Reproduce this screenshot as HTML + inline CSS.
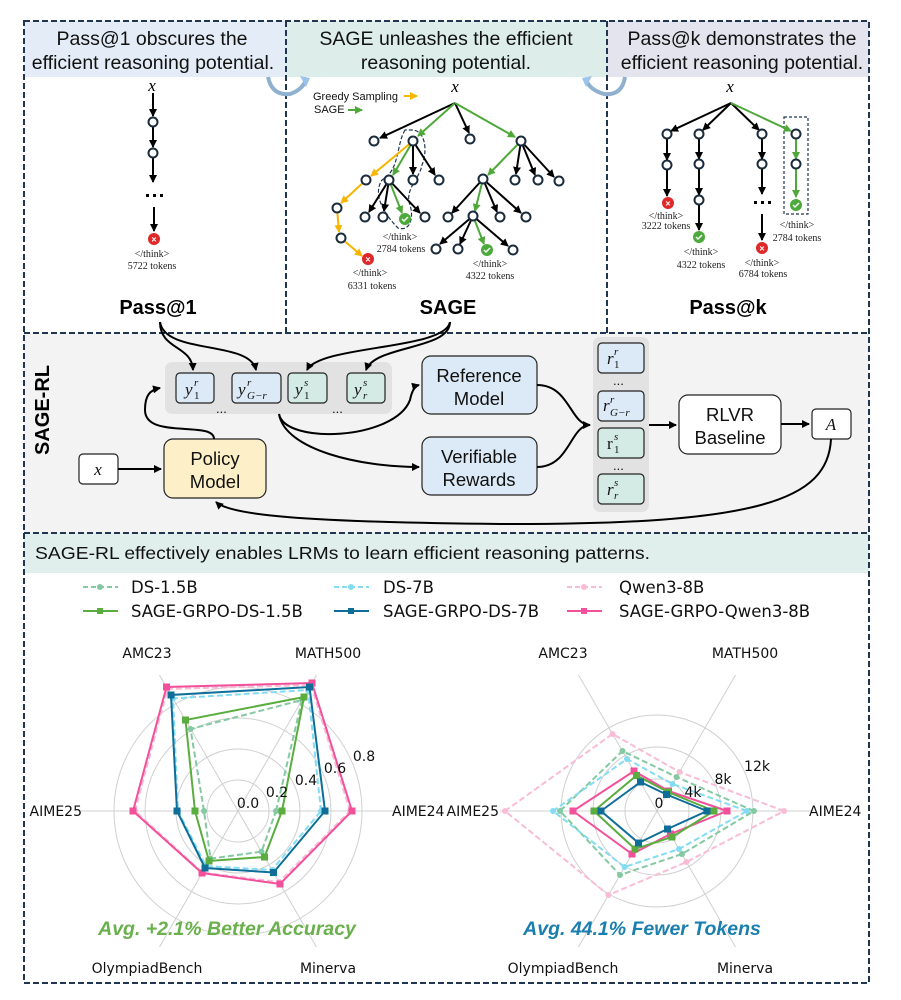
<!DOCTYPE html>
<html><head><meta charset="utf-8"><style>
html,body{margin:0;padding:0;background:#fff;}
svg{display:block;}
.s{font-family:"Liberation Sans",sans-serif;}
.d{font-family:"DejaVu Sans",sans-serif;}
.sr{font-family:"Liberation Serif",serif;}
</style></head><body>
<svg width="901" height="1000" viewBox="0 0 901 1000" xmlns="http://www.w3.org/2000/svg">
<defs>
<marker id="ak" markerWidth="8" markerHeight="8" refX="7" refY="4" orient="auto" markerUnits="userSpaceOnUse"><path d="M0,0 L8,4 L0,8 z" fill="#000"/></marker>
<marker id="ag" markerWidth="8" markerHeight="8" refX="7" refY="4" orient="auto" markerUnits="userSpaceOnUse"><path d="M0,0 L8,4 L0,8 z" fill="#4fa83a"/></marker>
<marker id="ay" markerWidth="8" markerHeight="8" refX="7" refY="4" orient="auto" markerUnits="userSpaceOnUse"><path d="M0,0 L8,4 L0,8 z" fill="#f7b500"/></marker>
<marker id="mq1" markerWidth="6" markerHeight="6" refX="3" refY="3" markerUnits="userSpaceOnUse"><circle cx="3" cy="3" r="3" fill="#f9bcd6"/></marker>
<marker id="mg1" markerWidth="6" markerHeight="6" refX="3" refY="3" markerUnits="userSpaceOnUse"><circle cx="3" cy="3" r="3" fill="#84c9a2"/></marker>
<marker id="mb1" markerWidth="6" markerHeight="6" refX="3" refY="3" markerUnits="userSpaceOnUse"><circle cx="3" cy="3" r="3" fill="#84dcf2"/></marker>
<marker id="mq2" markerWidth="7" markerHeight="7" refX="3.5" refY="3.5" markerUnits="userSpaceOnUse"><rect width="7" height="7" fill="#f2509a"/></marker>
<marker id="mg2" markerWidth="7" markerHeight="7" refX="3.5" refY="3.5" markerUnits="userSpaceOnUse"><rect width="7" height="7" fill="#5aad3e"/></marker>
<marker id="mb2" markerWidth="7" markerHeight="7" refX="3.5" refY="3.5" markerUnits="userSpaceOnUse"><rect width="7" height="7" fill="#0f6e98"/></marker>
</defs>

<rect x="24" y="21" width="262" height="56" fill="#e4edf7"/>
<rect x="286" y="21" width="321" height="56" fill="#ddeeea"/>
<rect x="607" y="21" width="262" height="56" fill="#e4e4ee"/>
<rect x="24" y="333" width="845" height="200" fill="#f3f3f3"/>
<rect x="24" y="533" width="845" height="40" fill="#e0efec"/>

<g fill="none" stroke="#1f3550" stroke-width="2" stroke-dasharray="6,3">
<rect x="24" y="21" width="845" height="962"/>
<line x1="24" y1="333" x2="869" y2="333"/>
<line x1="24" y1="533" x2="869" y2="533"/>
<line x1="286" y1="21" x2="286" y2="333"/>
<line x1="607" y1="21" x2="607" y2="333"/>
</g>

<g class="s" font-size="19.5" fill="#111" text-anchor="middle">
<text x="152" y="45">Pass@1 obscures the</text>
<text x="153" y="69">efficient reasoning  potential.</text>
<text x="446" y="45">SAGE unleashes the efficient</text>
<text x="446" y="69">reasoning potential.</text>
<text x="742" y="45">Pass@k demonstrates the</text>
<text x="742" y="69">efficient reasoning potential.</text>
</g>

<path d="M268,77 Q272,96 290,94 Q302,90 306,80" fill="none" stroke="#8fb0cf" stroke-width="4"/>
<path d="M300,76 l10,2 l-4,9 z" fill="#9cc3e8"/>
<path d="M625,77 Q622,96 604,94 Q590,90 586,80" fill="none" stroke="#8fb0cf" stroke-width="4"/>
<path d="M592,76 l-10,2 l4,9 z" fill="#9cc3e8"/>

<g stroke="#000" stroke-width="2" fill="none">
<line x1="153" y1="93" x2="153" y2="116" marker-end="url(#ak)"/>
<line x1="153" y1="127" x2="153" y2="147" marker-end="url(#ak)"/>
<line x1="153" y1="158" x2="153" y2="182" marker-end="url(#ak)"/>
<line x1="154" y1="207" x2="154" y2="231" marker-end="url(#ak)"/>
</g>
<text x="152" y="91" class="sr" font-style="italic" font-size="17" text-anchor="middle">x</text>
<g fill="#fff" stroke="#1a2b3c" stroke-width="2"><circle cx="153" cy="122" r="4.5"/><circle cx="153" cy="153" r="4.5"/></g>
<g fill="#000"><rect x="146" y="194" width="3" height="3"/><rect x="153" y="194" width="3" height="3"/><rect x="160" y="194" width="3" height="3"/></g>
<circle cx="154" cy="239" r="6" fill="#e02828"/><text x="154" y="242.5" font-size="9" fill="#fff" text-anchor="middle" class="s" font-weight="bold">×</text>
<g class="sr" font-size="10" fill="#222" text-anchor="middle"><text x="152" y="257">&lt;/think&gt;</text><text x="152" y="269">5722 tokens</text></g>
<text x="158" y="314" class="s" font-weight="bold" font-size="20" text-anchor="middle">Pass@1</text>

<g class="s" font-size="11" fill="#111"><text x="313" y="100">Greedy Sampling</text><text x="314" y="113">SAGE</text></g>
<line x1="404" y1="96" x2="417" y2="96" stroke="#f7b500" stroke-width="2" marker-end="url(#ay)"/>
<line x1="348" y1="110" x2="362" y2="110" stroke="#4fa83a" stroke-width="2" marker-end="url(#ag)"/>
<text x="455" y="92" class="sr" font-style="italic" font-size="17" text-anchor="middle">x</text>
<path d="M405,130 C396,145 400,170 382,180 C372,195 385,215 398,228 C410,232 414,218 410,205 C404,190 420,178 422,165 C428,150 425,130 412,130 Z" fill="none" stroke="#1f3550" stroke-width="1.2" stroke-dasharray="4,2"/>
<g stroke-width="2" fill="none">
<line x1="455" y1="103" x2="380" y2="138" stroke="#000" marker-end="url(#ak)"/>
<line x1="455" y1="103" x2="418" y2="136" stroke="#4fa83a" marker-end="url(#ag)"/>
<line x1="455" y1="103" x2="469" y2="133" stroke="#000" marker-end="url(#ak)"/>
<line x1="455" y1="103" x2="515" y2="137" stroke="#4fa83a" marker-end="url(#ag)"/>
<line x1="413" y1="141" x2="371" y2="176" stroke="#f7b500" marker-end="url(#ay)"/>
<line x1="413" y1="141" x2="393" y2="175" stroke="#4fa83a" marker-end="url(#ag)"/>
<line x1="413" y1="141" x2="413" y2="174" stroke="#000" marker-end="url(#ak)"/>
<line x1="413" y1="141" x2="435" y2="175" stroke="#000" marker-end="url(#ak)"/>
<line x1="366" y1="180" x2="341" y2="203" stroke="#f7b500" marker-end="url(#ay)"/>
<line x1="337" y1="208" x2="339" y2="232" stroke="#f7b500" marker-end="url(#ay)"/>
<line x1="341" y1="238" x2="362" y2="256" stroke="#f7b500" marker-end="url(#ay)"/>
<line x1="389" y1="180" x2="369" y2="212" stroke="#000" marker-end="url(#ak)"/>
<line x1="389" y1="180" x2="384" y2="211" stroke="#000" marker-end="url(#ak)"/>
<line x1="389" y1="180" x2="402" y2="213" stroke="#4fa83a" marker-end="url(#ag)"/>
<line x1="389" y1="180" x2="420" y2="213" stroke="#000" marker-end="url(#ak)"/>
<line x1="521" y1="141" x2="488" y2="175" stroke="#4fa83a" marker-end="url(#ag)"/>
<line x1="521" y1="141" x2="516" y2="174" stroke="#000" marker-end="url(#ak)"/>
<line x1="521" y1="141" x2="535" y2="175" stroke="#000" marker-end="url(#ak)"/>
<line x1="521" y1="141" x2="554" y2="177" stroke="#000" marker-end="url(#ak)"/>
<line x1="483" y1="179" x2="452" y2="213" stroke="#000" marker-end="url(#ak)"/>
<line x1="483" y1="179" x2="475" y2="211" stroke="#4fa83a" marker-end="url(#ag)"/>
<line x1="483" y1="179" x2="497" y2="212" stroke="#000" marker-end="url(#ak)"/>
<line x1="483" y1="179" x2="521" y2="213" stroke="#000" marker-end="url(#ak)"/>
<line x1="473" y1="216" x2="440" y2="244" stroke="#000" marker-end="url(#ak)"/>
<line x1="473" y1="216" x2="460" y2="244" stroke="#000" marker-end="url(#ak)"/>
<line x1="473" y1="216" x2="484" y2="244" stroke="#4fa83a" marker-end="url(#ag)"/>
<line x1="473" y1="216" x2="508" y2="246" stroke="#000" marker-end="url(#ak)"/>
</g>
<g fill="#fff" stroke="#1a2b3c" stroke-width="2">
<circle cx="374" cy="141" r="4.5"/><circle cx="413" cy="141" r="4.5"/><circle cx="470" cy="139" r="4.5"/><circle cx="521" cy="141" r="4.5"/>
<circle cx="366" cy="180" r="4.5"/><circle cx="389" cy="180" r="4.5"/><circle cx="413" cy="180" r="4.5"/><circle cx="439" cy="180" r="4.5"/>
<circle cx="337" cy="208" r="4.5"/><circle cx="341" cy="238" r="4.5"/>
<circle cx="365" cy="217" r="4.5"/><circle cx="383" cy="217" r="4.5"/><circle cx="425" cy="217" r="4.5"/>
<circle cx="483" cy="179" r="4.5"/><circle cx="515" cy="180" r="4.5"/><circle cx="538" cy="180" r="4.5"/><circle cx="559" cy="181" r="4.5"/>
<circle cx="448" cy="217" r="4.5"/><circle cx="473" cy="216" r="4.5"/><circle cx="500" cy="217" r="4.5"/><circle cx="526" cy="217" r="4.5"/>
<circle cx="436" cy="249" r="4.5"/><circle cx="458" cy="249" r="4.5"/><circle cx="513" cy="250" r="4.5"/>
</g>
<circle cx="405" cy="219" r="6" fill="#4caa3c"/><path d="M402,219 l2,2 l4,-4" stroke="#fff" stroke-width="1.5" fill="none"/>
<circle cx="487" cy="250" r="6" fill="#4caa3c"/><path d="M484,250 l2,2 l4,-4" stroke="#fff" stroke-width="1.5" fill="none"/>
<circle cx="368" cy="259" r="6" fill="#e02828"/><text x="368" y="262.5" font-size="9" fill="#fff" text-anchor="middle" class="s" font-weight="bold">×</text>
<g class="sr" font-size="10" fill="#222" text-anchor="middle">
<text x="400" y="240">&lt;/think&gt;</text><text x="401" y="252">2784 tokens</text>
<text x="370" y="276">&lt;/think&gt;</text><text x="372" y="289">6331 tokens</text>
<text x="490" y="267">&lt;/think&gt;</text><text x="490" y="279">4322 tokens</text>
</g>
<text x="448" y="314" class="s" font-weight="bold" font-size="20" text-anchor="middle">SAGE</text>

<text x="730" y="92" class="sr" font-style="italic" font-size="17" text-anchor="middle">x</text>
<rect x="784" y="117" width="24" height="97" fill="none" stroke="#1f3550" stroke-width="1.2" stroke-dasharray="3,2"/>
<g stroke-width="2" fill="none">
<line x1="731" y1="103" x2="671" y2="131" stroke="#000" marker-end="url(#ak)"/>
<line x1="731" y1="103" x2="703" y2="130" stroke="#000" marker-end="url(#ak)"/>
<line x1="731" y1="103" x2="759" y2="130" stroke="#000" marker-end="url(#ak)"/>
<line x1="731" y1="103" x2="791" y2="131" stroke="#4fa83a" marker-end="url(#ag)"/>
<line x1="667" y1="139" x2="667" y2="160" stroke="#000" marker-end="url(#ak)"/>
<line x1="667" y1="170" x2="667" y2="196" stroke="#000" marker-end="url(#ak)"/>
<line x1="699" y1="139" x2="699" y2="159" stroke="#000" marker-end="url(#ak)"/>
<line x1="699" y1="169" x2="699" y2="195" stroke="#000" marker-end="url(#ak)"/>
<line x1="699" y1="205" x2="699" y2="230" stroke="#000" marker-end="url(#ak)"/>
<line x1="762" y1="139" x2="762" y2="159" stroke="#000" marker-end="url(#ak)"/>
<line x1="762" y1="169" x2="762" y2="194" stroke="#000" marker-end="url(#ak)"/>
<line x1="762" y1="214" x2="762" y2="240" stroke="#000" marker-end="url(#ak)"/>
<line x1="796" y1="139" x2="796" y2="159" stroke="#4fa83a" marker-end="url(#ag)"/>
<line x1="796" y1="169" x2="796" y2="197" stroke="#4fa83a" marker-end="url(#ag)"/>
</g>
<g fill="#fff" stroke="#1a2b3c" stroke-width="2">
<circle cx="667" cy="134" r="4.5"/><circle cx="667" cy="165" r="4.5"/>
<circle cx="699" cy="134" r="4.5"/><circle cx="699" cy="164" r="4.5"/><circle cx="699" cy="200" r="4.5"/>
<circle cx="762" cy="134" r="4.5"/><circle cx="762" cy="164" r="4.5"/>
<circle cx="796" cy="134" r="4.5"/><circle cx="796" cy="164" r="4.5"/>
</g>
<g fill="#000"><rect x="754" y="201" width="3" height="3"/><rect x="761" y="201" width="3" height="3"/><rect x="768" y="201" width="3" height="3"/></g>
<circle cx="668" cy="203" r="6" fill="#e02828"/><text x="668" y="206.5" font-size="9" fill="#fff" text-anchor="middle" class="s" font-weight="bold">×</text>
<circle cx="762" cy="248" r="6" fill="#e02828"/><text x="762" y="251.5" font-size="9" fill="#fff" text-anchor="middle" class="s" font-weight="bold">×</text>
<circle cx="699" cy="237" r="6" fill="#4caa3c"/><path d="M696,237 l2,2 l4,-4" stroke="#fff" stroke-width="1.5" fill="none"/>
<circle cx="796" cy="205" r="6" fill="#4caa3c"/><path d="M793,205 l2,2 l4,-4" stroke="#fff" stroke-width="1.5" fill="none"/>
<g class="sr" font-size="10" fill="#222" text-anchor="middle">
<text x="666" y="219">&lt;/think&gt;</text><text x="666" y="229">3222 tokens</text>
<text x="701" y="255">&lt;/think&gt;</text><text x="701" y="268">4322 tokens</text>
<text x="762" y="266">&lt;/think&gt;</text><text x="763" y="277">6784 tokens</text>
<text x="797" y="228">&lt;/think&gt;</text><text x="797" y="241">2784 tokens</text>
</g>
<text x="728" y="314" class="s" font-weight="bold" font-size="20" text-anchor="middle">Pass@k</text>

<text transform="translate(49,410) rotate(-90)" class="s" font-weight="bold" font-size="20" text-anchor="middle">SAGE-RL</text>
<rect x="165" y="362" width="227" height="52" rx="7" fill="#e2e2e2"/>
<rect x="593" y="337" width="56" height="175" rx="7" fill="#e2e2e2"/>
<g stroke="#222" stroke-width="1.2">
<rect x="176" y="373" width="38" height="30" rx="4" fill="#dce9f6"/>
<rect x="232" y="373" width="49" height="30" rx="4" fill="#dce9f6"/>
<rect x="288" y="373" width="39" height="30" rx="4" fill="#d4ebe5"/>
<rect x="347" y="373" width="38" height="30" rx="4" fill="#d4ebe5"/>
<rect x="598" y="343" width="46" height="30" rx="4" fill="#dce9f6"/>
<rect x="598" y="391" width="46" height="30" rx="4" fill="#dce9f6"/>
<rect x="598" y="428" width="46" height="30" rx="4" fill="#d4ebe5"/>
<rect x="598" y="474" width="46" height="30" rx="4" fill="#d4ebe5"/>
<rect x="422" y="356" width="115" height="58" rx="9" fill="#dce9f6"/>
<rect x="422" y="437" width="115" height="58" rx="9" fill="#dce9f6"/>
<rect x="164" y="439" width="102" height="59" rx="9" fill="#fdf0c8"/>
<rect x="79" y="454" width="39" height="30" rx="4" fill="#fff"/>
<rect x="679" y="395" width="102" height="59" rx="9" fill="#fff"/>
<rect x="812" y="409" width="39" height="30" rx="4" fill="#fff"/>
</g>
<g class="sr" font-style="italic" font-size="17" fill="#111">
<text x="185" y="395">y</text><text x="194" y="386" font-size="11">r</text><text x="194" y="399" font-size="11" font-style="normal">1</text>
<text x="238" y="395">y</text><text x="247" y="386" font-size="11">r</text><text x="247" y="399" font-size="11">G−r</text>
<text x="295" y="395">y</text><text x="304" y="386" font-size="11">s</text><text x="304" y="399" font-size="11" font-style="normal">1</text>
<text x="354" y="395">y</text><text x="363" y="386" font-size="11">s</text><text x="363" y="399" font-size="11">r</text>
<text x="607" y="364" >r</text><text x="614" y="355" font-size="11">r</text><text x="614" y="368" font-size="11" font-style="normal">1</text>
<text x="603" y="411">r</text><text x="610" y="403" font-size="11">r</text><text x="610" y="416" font-size="11">G−r</text>
<text x="607" y="449" font-style="normal">r</text><text x="614" y="440" font-size="11">s</text><text x="614" y="453" font-size="11" font-style="normal">1</text>
<text x="607" y="495">r</text><text x="614" y="486" font-size="11">s</text><text x="614" y="499" font-size="11">r</text>
<text x="98" y="475" text-anchor="middle">x</text>
<text x="831" y="430" text-anchor="middle">A</text>
</g>
<g class="s" font-size="13" fill="#111"><text x="216" y="413">...</text><text x="332" y="413">...</text><text x="613" y="385">...</text><text x="613" y="470">...</text></g>
<g class="s" font-size="18.5" fill="#111" text-anchor="middle">
<text x="479" y="382">Reference</text><text x="479" y="405">Model</text>
<text x="479" y="463">Verifiable</text><text x="479" y="486">Rewards</text>
<text x="215" y="465">Policy</text><text x="215" y="488">Model</text>
<text x="730" y="421">RLVR</text><text x="730" y="444">Baseline</text>
</g>
<g stroke="#000" stroke-width="2" fill="none">
<path d="M160,322 C160,350 192,345 193,370" marker-end="url(#ak)"/>
<path d="M160,322 C165,355 250,340 256,370" marker-end="url(#ak)"/>
<path d="M450,322 C445,350 320,345 307,370" marker-end="url(#ak)"/>
<path d="M450,322 C450,350 375,345 366,370" marker-end="url(#ak)"/>
<line x1="118" y1="469" x2="161" y2="469" marker-end="url(#ak)"/>
<path d="M214,439 C214,420 145,440 145,410 C145,395 150,390 160,388" marker-end="url(#ak)"/>
<path d="M279,414 C285,445 395,440 410,400 C412,390 415,386 419,385" marker-end="url(#ak)"/>
<path d="M279,414 C285,450 360,467 419,467" marker-end="url(#ak)"/>
<path d="M537,385 C570,385 570,425 590,425" marker-end="url(#ak)"/>
<path d="M537,467 C570,467 570,425 590,425"/>
<line x1="649" y1="425" x2="676" y2="425" marker-end="url(#ak)"/>
<line x1="781" y1="424" x2="809" y2="424" marker-end="url(#ak)"/>
<path d="M831,439 C828,500 760,525 500,524 C300,522 230,515 216,502" marker-end="url(#ak)"/>
</g>

<text x="35" y="559" class="s" font-size="17.5" fill="#111" textLength="615" lengthAdjust="spacingAndGlyphs">SAGE-RL effectively enables LRMs to learn efficient reasoning patterns.</text>
<g stroke-width="2">
<line x1="83" y1="587" x2="118" y2="587" stroke="#84c9a2" stroke-dasharray="5,3"/><circle cx="100" cy="587" r="3" fill="#84c9a2"/>
<line x1="334" y1="587" x2="369" y2="587" stroke="#84dcf2" stroke-dasharray="5,3"/><circle cx="351" cy="587" r="3" fill="#84dcf2"/>
<line x1="567" y1="587" x2="602" y2="587" stroke="#f9bcd6" stroke-dasharray="5,3"/><circle cx="584" cy="587" r="3" fill="#f9bcd6"/>
<line x1="83" y1="611" x2="118" y2="611" stroke="#5aad3e"/><rect x="97" y="608" width="6" height="6" fill="#5aad3e"/>
<line x1="334" y1="611" x2="369" y2="611" stroke="#0f6e98"/><rect x="348" y="608" width="6" height="6" fill="#0f6e98"/>
<line x1="567" y1="611" x2="602" y2="611" stroke="#f2509a"/><rect x="581" y="608" width="6" height="6" fill="#f2509a"/>
</g>
<g class="d" font-size="16.5" fill="#111">
<text x="131" y="593">DS-1.5B</text><text x="383" y="593">DS-7B</text><text x="619" y="593">Qwen3-8B</text>
<text x="131" y="617">SAGE-GRPO-DS-1.5B</text><text x="383" y="617">SAGE-GRPO-DS-7B</text><text x="619" y="617">SAGE-GRPO-Qwen3-8B</text>
</g>

<g fill="none" stroke="#d0d0d0" stroke-width="1">
<circle cx="238" cy="811" r="31"/><circle cx="238" cy="811" r="62"/><circle cx="238" cy="811" r="93"/><circle cx="238" cy="811" r="124"/>
<line x1="81" y1="811" x2="395" y2="811"/><line x1="159.5" y1="675" x2="316.5" y2="947"/><line x1="316.5" y1="675" x2="159.5" y2="947"/>
<circle cx="657" cy="811" r="32"/><circle cx="657" cy="811" r="64"/><circle cx="657" cy="811" r="96"/>
<line x1="500" y1="811" x2="814" y2="811"/><line x1="578.5" y1="675" x2="735.5" y2="947"/><line x1="735.5" y1="675" x2="578.5" y2="947"/>
</g>
<g fill="none" stroke-width="2">
<polygon points="350,811 311,685 167.5,689 135,811 202.5,872.5 279,882" stroke="#f9bcd6" stroke-dasharray="6,3" marker-start="url(#mq1)" marker-mid="url(#mq1)"/>
<polygon points="352,811 312,683 166.5,687 133,811 202,873 280,884" stroke="#f2509a" marker-start="url(#mq2)" marker-mid="url(#mq2)"/>
<polygon points="321,811 308,690 173,698.5 178,811 206,866 272,870" stroke="#84dcf2" stroke-dasharray="6,3" marker-start="url(#mb1)" marker-mid="url(#mb1)"/>
<polygon points="325,811 309.5,687 171,695 177,811 205,868 273.5,872.5" stroke="#0f6e98" marker-start="url(#mb2)" marker-mid="url(#mb2)"/>
<polygon points="276,811 302,700 190.5,729 204,811 210.5,858.6 261.5,851.7" stroke="#84c9a2" stroke-dasharray="6,3" marker-start="url(#mg1)" marker-mid="url(#mg1)"/>
<polygon points="282,811 304,697 185.5,720 195,811 209,861 264.5,857" stroke="#5aad3e" marker-start="url(#mg2)" marker-mid="url(#mg2)"/>

<polygon points="784,811 679.5,772 612.5,734 505,811 608.5,895 686.5,862" stroke="#f9bcd6" stroke-dasharray="6,3" marker-start="url(#mq1)" marker-mid="url(#mq1)"/>
<polygon points="754,811 676.5,777 622.5,751 560,811 620,875 682,854" stroke="#84c9a2" stroke-dasharray="6,3" marker-start="url(#mg1)" marker-mid="url(#mg1)"/>
<polygon points="747,811 672.5,784 627,759 553,811 624.5,867 679,849" stroke="#84dcf2" stroke-dasharray="6,3" marker-start="url(#mb1)" marker-mid="url(#mb1)"/>
<polygon points="727,811 668.5,791 634,771 573,811 632,854 670.5,834" stroke="#f2509a" marker-start="url(#mq2)" marker-mid="url(#mq2)"/>
<polygon points="714,811 668,792 636.5,775.5 594,811 635,849 672,837" stroke="#5aad3e" marker-start="url(#mg2)" marker-mid="url(#mg2)"/>
<polygon points="707,811 666.5,794.5 640.5,782 601,811 638.5,843 667.5,829" stroke="#0f6e98" marker-start="url(#mb2)" marker-mid="url(#mb2)"/>
</g>
<g class="d" font-size="14" fill="#111">
<text x="248" y="808" text-anchor="middle">0.0</text><text x="277" y="797" text-anchor="middle">0.2</text><text x="306" y="785" text-anchor="middle">0.4</text><text x="335" y="773" text-anchor="middle">0.6</text><text x="364" y="761" text-anchor="middle">0.8</text>
<text x="147" y="658" text-anchor="middle">AMC23</text><text x="328" y="658" text-anchor="middle">MATH500</text>
<text x="82" y="816" text-anchor="end">AIME25</text><text x="392" y="816">AIME24</text>
<text x="147" y="973" text-anchor="middle">OlympiadBench</text><text x="328" y="973" text-anchor="middle">Minerva</text>
<text x="659" y="808" text-anchor="middle">0</text><text x="693" y="797" text-anchor="middle">4k</text><text x="723" y="784" text-anchor="middle">8k</text><text x="757" y="771" text-anchor="middle">12k</text>
<text x="563" y="658" text-anchor="middle">AMC23</text><text x="745" y="658" text-anchor="middle">MATH500</text>
<text x="499" y="816" text-anchor="end">AIME25</text><text x="809" y="816">AIME24</text>
<text x="563" y="973" text-anchor="middle">OlympiadBench</text><text x="745" y="973" text-anchor="middle">Minerva</text>
</g>
<text x="227" y="935" class="s" font-weight="bold" font-style="italic" font-size="19.5" fill="#6ab04c" text-anchor="middle">Avg. +2.1% Better Accuracy</text>
<text x="642" y="935" class="s" font-weight="bold" font-style="italic" font-size="19.5" fill="#1a7fae" text-anchor="middle">Avg. 44.1% Fewer Tokens</text>
</svg>
</body></html>
